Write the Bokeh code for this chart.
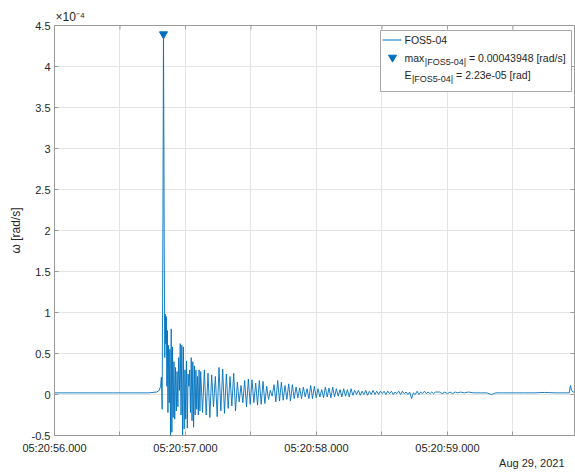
import numpy as np
from bokeh.plotting import figure
from bokeh.models import ColumnDataSource, FixedTicker, Label, Range1d, Title
from bokeh.embed import file_html
from bokeh.resources import INLINE

# Angular rate of sensor FOS5-04 (units of 1e-4 rad/s); time in seconds after 05:20:56.000
pre_t = [0.00, 0.15, 0.30, 0.45, 0.60, 0.72, 0.78, 0.80, 0.810, 0.816]
pre_v = [0.02, 0.02, 0.02, 0.02, 0.02, 0.02, 0.03, 0.05, 0.10, 0.21]

event_t = [0.822, 0.828, 0.832, 0.835, 0.838, 0.842, 0.846, 0.850, 0.854, 0.858, 0.862, 0.866,
           0.871, 0.876, 0.881, 0.886, 0.891, 0.896, 0.901, 0.906,
           0.912, 0.918, 0.924, 0.930, 0.936, 0.942, 0.948, 0.954, 0.960, 0.966,
           0.972, 0.978, 0.984, 0.990, 0.996, 1.002, 1.008, 1.014, 1.020, 1.026,
           1.032, 1.038, 1.044, 1.050, 1.056, 1.062, 1.068, 1.074, 1.080, 1.086,
           1.092, 1.098, 1.104, 1.110]
event_v = [-0.18, 2.20, 4.3948, 3.18, 1.75, 0.45, 0.98, 0.62, 0.95, 0.10, 0.78, -0.22,
           0.60, -0.10, 0.55, -0.50, 0.80, -0.46, 0.58, -0.28,
           0.40, -0.30, 0.33, -0.20, 0.28, -0.15, 0.45, 0.05, 0.62, -0.25,
           0.60, -0.50, 0.58, -0.42, 0.30, -0.30, 0.41, -0.41, 0.25, 0.10,
           0.30, -0.22, 0.45, -0.32, 0.40, -0.40, 0.35, -0.25, 0.30, -0.18,
           0.22, -0.25, 0.30, -0.20]

# decaying coda, sampled every 14 ms from t = 1.116 s
coda_t0 = 1.116
coda_dt = 0.014
coda_v = [0.28, -0.22, 0.30, -0.25, 0.26, -0.28,
          0.24, -0.15,
          0.22, -0.27, 0.33, -0.20, 0.31, -0.23,
          0.25, -0.17, 0.22, -0.14, 0.26, -0.20,
          0.15, -0.09, 0.11,
          -0.10, 0.17, -0.15, 0.19, -0.12, 0.18,
          -0.10, 0.14,
          -0.13, 0.17, -0.12, 0.16,
          -0.11, 0.10, -0.06, 0.05,
          -0.02, 0.12, -0.09, 0.17, -0.08,
          0.15, -0.07, 0.11,
          -0.06, 0.13, -0.08, 0.12,
          -0.05, 0.09, -0.04, 0.08, -0.05, 0.09, -0.03, 0.07, -0.05,
          0.11, -0.05, 0.10, -0.04,
          0.07, -0.03, 0.06,
          -0.04, 0.09, -0.03, 0.08, -0.04, 0.09,
          -0.03, 0.07, -0.02, 0.06, -0.03, 0.07, -0.02, 0.06, -0.03, 0.07,
          -0.01, 0.05, 0.00, 0.05, -0.01, 0.04, 0.00, 0.05, -0.01, 0.04, 0.00, 0.05,
          0.00, 0.04, 0.00, 0.04, 0.01, 0.04, 0.00, 0.04, 0.01, 0.04, 0.00, 0.03,
          0.01, 0.04, 0.00, 0.04, 0.01, 0.03, 0.00,
          0.03, -0.05, 0.02, 0.00,
          0.04, 0.00, 0.03, 0.01, 0.04, 0.01, 0.03, 0.01, 0.03, 0.01, 0.03]

tail_t = [2.94, 2.96, 2.98, 3.00, 3.02, 3.04, 3.06, 3.08, 3.10,
          3.13, 3.16, 3.20, 3.25, 3.30,
          3.335, 3.37, 3.42, 3.50, 3.58, 3.66, 3.74, 3.82, 3.90,
          3.93, 3.939, 3.948, 3.958, 3.97]
tail_v = [0.03, 0.01, 0.03, 0.01, 0.03, 0.01, 0.03, 0.02, 0.03,
          0.02, 0.03, 0.02, 0.02, 0.02,
          0.00, 0.02, 0.02, 0.02, 0.02, 0.02, 0.025, 0.02, 0.02,
          0.02, 0.11, 0.05, 0.03, 0.03]

series_name = "FOS5-04"
energy_text = "2.23e-05"
date_text = "Aug 29, 2021"
y_scale_text = "\u00d710\u207b\u2074"
y_label = "\u03c9 [rad/s]"

x_ticks = [0.0, 0.5, 1.0, 1.5, 2.0, 2.5, 3.0, 3.5]
x_tick_labels = ["05:20:56.000", "", "05:20:57.000", "", "05:20:58.000", "", "05:20:59.000", ""]
y_ticks = [-0.5, 0.0, 0.5, 1.0, 1.5, 2.0, 2.5, 3.0, 3.5, 4.0, 4.5]
y_tick_labels = ["-0.5", "0", "0.5", "1", "1.5", "2", "2.5", "3", "3.5", "4", "4.5"]

coda_t = [coda_t0 + i * coda_dt for i in range(len(coda_v))]
t = np.array(pre_t + event_t + coda_t + tail_t)
v = np.array(pre_v + event_v + coda_v + tail_v)

i_max = int(np.argmax(v))
peak_t, peak_v = t[i_max], v[i_max]

X0, X1 = 0.0, 3.97
Y0, Y1 = -0.5, 4.5
FL, FT, FW, FH = 54, 25, 520, 410

def at(px, py):
    """canvas pixel -> data coordinates (for annotation placement)"""
    return (X0 + (px - FL) * (X1 - X0) / FW, Y1 - (py - FT) * (Y1 - Y0) / FH)

# Arial / Liberation Sans advance widths (1/1000 em), used to lay out legend text runs
ADV = {" ": 278, "|": 260, "F": 611, "O": 778, "S": 667, "5": 556, "-": 333, "0": 556,
       "4": 556, "m": 833, "a": 556, "x": 500, "=": 584, ".": 278, "3": 556, "9": 556,
       "8": 556, "[": 278, "r": 333, "d": 556, "/": 278, "s": 500, "]": 278, "E": 667,
       "2": 556, "e": 556}

def text_width(s, size):
    return sum(ADV.get(c, 556) for c in s) * size / 1000.0

FONT = "Liberation Sans"
TXT = "#262626"
AX = "#9b9b9b"
BLUE = "#0072BD"

p = figure(width=575, height=472, x_range=Range1d(X0, X1), y_range=Range1d(Y0, Y1),
           output_backend="svg", toolbar_location=None, title=y_scale_text,
           min_border_left=FL, min_border_right=575 - FL - FW,
           min_border_top=FT, min_border_bottom=472 - FT - FH)
p.background_fill_color = "white"
p.border_fill_color = "white"
p.outline_line_color = AX

p.title.align = "left"
p.title.text_font = FONT
p.title.text_font_size = "12px"
p.title.text_font_style = "normal"
p.title.text_color = TXT
p.title.standoff = 3
p.title.offset = 1

p.xaxis.ticker = FixedTicker(ticks=x_ticks)
p.xaxis.major_label_overrides = dict(zip(x_ticks, x_tick_labels))
p.yaxis.ticker = FixedTicker(ticks=y_ticks)
p.yaxis.major_label_overrides = dict(zip(y_ticks, y_tick_labels))
for ax in (p.xaxis, p.yaxis):
    ax.major_tick_in = 4
    ax.major_tick_out = 0
    ax.minor_tick_line_color = None
    ax.axis_line_color = AX
    ax.major_tick_line_color = AX
    ax.major_label_text_font = FONT
    ax.major_label_text_font_size = "11px"
    ax.major_label_text_color = TXT
p.xaxis.major_label_standoff = 6
p.yaxis.major_label_standoff = 4
p.yaxis.axis_label = y_label
p.yaxis.axis_label_text_font = FONT
p.yaxis.axis_label_text_font_size = "12px"
p.yaxis.axis_label_text_font_style = "normal"
p.yaxis.axis_label_text_color = TXT
p.yaxis.axis_label_standoff = 6
p.grid.grid_line_color = "#e4e4e4"

p.add_layout(Title(text=date_text, align="right", vertical_align="top", text_font=FONT,
                   text_font_size="11px", text_font_style="normal", text_color=TXT,
                   standoff=1, offset=10),
             "below")

# inward ticks on the top and right edges of the box
tick_dx = 4 * (X1 - X0) / FW
tick_dy = 4 * (Y1 - Y0) / FH
p.segment(x0=x_ticks, y0=[Y1] * len(x_ticks), x1=x_ticks, y1=[Y1 - tick_dy] * len(x_ticks),
          line_color=AX, line_width=1)
p.segment(x0=[X1] * len(y_ticks), y0=y_ticks, x1=[X1 - tick_dx] * len(y_ticks), y1=y_ticks,
          line_color=AX, line_width=1)

src = ColumnDataSource(dict(t=t, v=v))
p.line("t", "v", source=src, line_color=BLUE, line_width=0.9)
p.scatter([peak_t], [peak_v], marker="inverted_triangle", size=8,
          fill_color=BLUE, line_color=BLUE)

# legend: white box with the key glyphs drawn after it
bl, bt = at(380, 30)
br, bb = at(571, 91)
p.quad(left=[bl], right=[br], top=[bt], bottom=[bb], fill_color="white",
       line_color="#a8a8a8", line_width=1)
lx0, ly = at(382, 39.5)
lx1, _ = at(401, 39.5)
p.line([lx0, lx1], [ly, ly], line_color=BLUE, line_width=1)
mx, my = at(392, 57)
p.scatter([mx], [my], marker="inverted_triangle", size=8, fill_color=BLUE, line_color=BLUE)

def txt(px, py, s, size=10.5, style="normal", align="left"):
    x, y = at(px, py)
    p.add_layout(Label(x=x, y=y, text=s, text_font=FONT, text_font_size="%gpx" % size,
                       text_font_style=style, text_color=TXT, text_align=align,
                       text_baseline="middle"))

MAIN, SUB = 10.5, 9
sub_text = "|" + series_name + "|"
TX = 404
txt(TX, 39, series_name, MAIN)

x = TX
txt(x, 57, "max", MAIN)
x += text_width("max", MAIN) + 0.5
txt(x, 61.5, sub_text, SUB)
x += text_width(sub_text, SUB) + text_width(" ", MAIN)
txt(x, 57, "= %.8f [rad/s]" % (peak_v * 1e-4), MAIN)

x = TX
txt(x, 74, "E", MAIN)
x += text_width("E", MAIN) + 0.5
txt(x, 78.5, sub_text, SUB)
x += text_width(sub_text, SUB) + text_width(" ", MAIN)
txt(x, 74, "= " + energy_text + " [rad]", MAIN)

open("out.html", "w").write(file_html(p, INLINE, title="FOS5-04"))
